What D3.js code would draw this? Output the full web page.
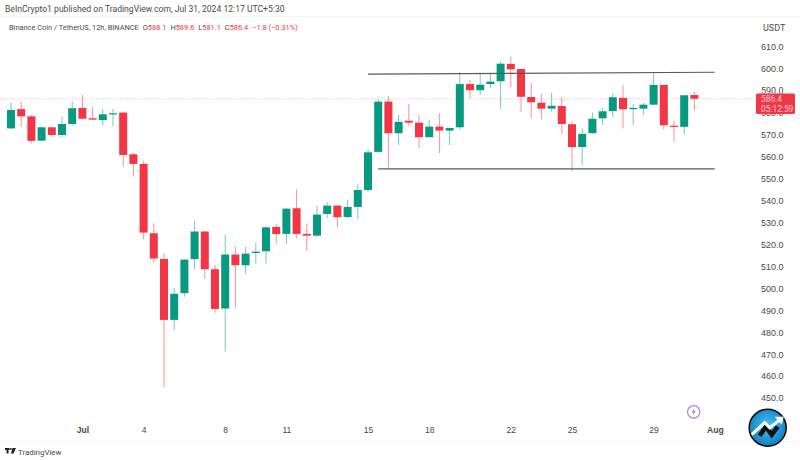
<!DOCTYPE html>
<html><head><meta charset="utf-8">
<script src="https://cdn.jsdelivr.net/npm/d3@7"></script>
<style>html,body{margin:0;padding:0;background:#fff}svg{display:block;font-family:Roboto,"Liberation Sans",sans-serif}</style>
</head><body><svg id="c" width="800" height="460"></svg>
<script>
const opens=[572.9,581.7,578.4,567.3,573.4,569.9,574.9,582.2,577.5,576.7,579.3,580.1,561.1,556.7,525.1,513.4,485.6,497.8,513.3,525.9,508.7,490.8,515.4,510.5,516.1,516.9,528.0,524.8,536.5,524.8,524.0,533.9,537.7,532.5,537.1,544.8,562.2,585.1,570.7,576.4,575.5,568.9,573.7,571.9,573.4,593.1,590.3,593.1,594.4,602.3,600.0,587.2,584.6,581.9,583.1,574.8,564.4,570.7,577.5,580.8,586.8,581.7,581.9,583.7,592.7,574.1,573.6,588.1];
const highs=[584.8,585.1,579.0,573.7,573.6,578.2,585.1,588.1,582.8,581.6,581.9,580.5,561.7,558.2,529.7,516.0,500.1,513.1,530.9,525.9,510.7,524.3,519.0,519.0,520.6,528.4,529.4,536.5,545.2,529.4,537.6,539.2,537.7,540.3,547.4,563.4,586.3,587.7,579.0,584.0,579.0,576.7,579.8,573.1,598.5,595.0,598.0,598.2,603.3,605.6,600.0,593.5,588.6,589.2,587.3,576.4,572.9,580.2,582.3,588.9,592.7,583.9,584.6,598.5,592.7,576.3,588.0,589.6];
const lows=[572.6,573.7,566.1,567.0,569.0,568.7,574.0,577.1,576.7,574.4,574.0,555.4,550.9,522.4,511.7,454.9,481.1,496.2,508.7,504.2,488.7,471.2,490.9,506.6,511.4,511.4,520.2,520.2,522.8,517.0,523.3,531.9,527.7,531.9,531.5,544.0,561.8,554.7,565.3,574.0,564.1,568.8,561.6,565.3,572.2,586.6,588.1,591.2,581.7,591.6,580.5,577.5,577.1,580.5,570.4,553.6,556.2,570.6,574.5,578.0,572.9,574.5,579.0,583.6,572.5,566.8,570.2,581.1];
const closes=[581.3,578.4,567.2,573.4,569.9,574.9,582.1,577.3,576.9,579.3,579.8,560.8,556.7,525.4,513.6,485.6,497.5,513.1,525.9,508.7,490.6,515.4,510.5,515.8,516.7,527.8,524.7,536.3,524.8,524.0,533.6,537.7,532.4,537.1,544.8,562.0,585.1,570.7,575.9,575.5,568.9,573.7,571.9,573.1,593.1,590.3,592.8,594.2,602.4,599.8,587.3,584.8,581.9,583.2,574.9,564.4,570.4,577.3,580.7,587.1,581.6,582.2,583.7,592.7,574.3,573.6,588.0,586.4];
const priceTicks=[450,460,470,480,490,500,510,520,530,540,550,560,570,580,590,600,610];
const timeLabels=["Jul","4","8","11","15","18","22","25","29","Aug"];
const timeIndex=[7,13,21,27,35,41,49,55,63,69];
const upperLineIdx=[35,69], upperLinePrice=[597.6,598.5];
const lowerLineIdx=[36,69], lowerLinePrice=[554.4,554.4];
const lastPrice=586.4;

const GREEN="#089981",RED="#f23645",TXT="#4a4a4a";
const svg=d3.select("#c");
const x=d3.scaleLinear().domain([0,67]).range([11,694.4]);
const y=d3.scaleLinear().domain([450,610]).range([398,47]);

const frame=svg.append("g").attr("stroke","#f5f5f5").attr("fill","none");
frame.append("line").attr("x1",0).attr("x2",800).attr("y1",16.5).attr("y2",16.5);
frame.append("line").attr("x1",0).attr("x2",800).attr("y1",441.5).attr("y2",441.5);

svg.append("line").attr("x1",0).attr("x2",756).attr("y1",y(lastPrice)).attr("y2",y(lastPrice))
  .attr("stroke","#f9c6cb").attr("stroke-width",1).attr("stroke-dasharray","1.5 1.5");

const data=opens.map((o,i)=>({i,o,h:highs[i],l:lows[i],c:closes[i]}));
const g=svg.append("g");
g.selectAll("line.w").data(data).join("line").attr("class","w")
  .attr("x1",d=>x(d.i)).attr("x2",d=>x(d.i)).attr("y1",d=>y(d.h)).attr("y2",d=>y(d.l))
  .attr("stroke",d=>d.c>=d.o?GREEN:RED).attr("stroke-opacity",0.55).attr("stroke-width",1);
g.selectAll("rect").data(data).join("rect")
  .attr("x",d=>x(d.i)-4).attr("width",8)
  .attr("y",d=>y(Math.max(d.o,d.c)))
  .attr("height",d=>Math.max(1.2,Math.abs(y(d.o)-y(d.c))))
  .attr("fill",d=>d.c>=d.o?GREEN:RED);

const tl=d3.line().x(d=>x(d[0])).y(d=>y(d[1]));
[[upperLineIdx,upperLinePrice],[lowerLineIdx,lowerLinePrice]].forEach(([a,b])=>{
  svg.append("path").attr("d",tl(d3.zip(a,b))).attr("fill","none").attr("stroke","#5a5a5a").attr("stroke-width",1.2);
});

const ay=svg.append("g").attr("transform","translate(761,0)")
  .call(d3.axisRight(y).tickValues(priceTicks.filter(v=>v!==580&&v!==590)).tickSize(0).tickPadding(0).tickFormat(d3.format(".1f")));
ay.select(".domain").remove();
ay.selectAll("text").attr("fill",TXT).attr("font-size",9);
// Ticks partly covered by the last-price tag: clipped so only the visible part shows
const clip=svg.append("defs").append("clipPath").attr("id","tagclip");
clip.append("rect").attr("x",756).attr("y",80).attr("width",44).attr("height",13.5);
clip.append("rect").attr("x",756).attr("y",114).attr("width",44).attr("height",6);
svg.append("g").attr("clip-path","url(#tagclip)").selectAll("text").data([580,590]).join("text")
  .attr("x",761).attr("y",d=>y(d)).attr("dy","0.32em").attr("font-size",9).attr("fill",TXT).text(d3.format(".1f"));

svg.append("text").attr("x",763).attr("y",31).attr("font-size",9).attr("fill",TXT).text("USDT");

svg.append("rect").attr("x",756).attr("y",93.5).attr("width",39).attr("height",20.5).attr("rx",1.5).attr("fill",RED);
svg.append("text").attr("x",761).attr("y",102).attr("font-size",8.4).attr("fill","#fbd0d4").text(d3.format(".1f")(lastPrice));
svg.append("text").attr("x",761).attr("y",112).attr("font-size",8.4).attr("fill","#fbd0d4").text("05:12:59");

const at=svg.append("g").attr("transform","translate(0,427)")
  .call(d3.axisBottom(x).tickValues(timeIndex).tickSize(0).tickPadding(0).tickFormat((d,i)=>timeLabels[i]));
at.select(".domain").remove();
at.selectAll("text").attr("fill",TXT).attr("font-size",8.6)
  .attr("font-weight",(d,i)=>timeLabels[i]==="Jul"||timeLabels[i]==="Aug"?700:400);

svg.append("text").attr("x",5).attr("y",12).attr("font-size",8.6).attr("fill",TXT).text("BeInCrypto1 published on TradingView.com, Jul 31, 2024 12:17 UTC+5:30");
const hdr=svg.append("text").attr("x",9).attr("y",30).attr("font-size",7.4).attr("fill",TXT);
hdr.append("tspan").text("Binance Coin / TetherUS, 12h, BINANCE");
[["O","588.1"],["H","589.6"],["L","581.1"],["C","586.4"]].forEach(([k,v])=>{
  hdr.append("tspan").attr("dx",4).text(k);
  hdr.append("tspan").attr("fill",RED).text(v);
});
hdr.append("tspan").attr("dx",4).attr("fill",RED).text("\u22121.8 (\u22120.31%)");

svg.append("text").attr("x",18).attr("y",455).attr("font-size",7.9).attr("fill",TXT).text("TradingView");
const lg=svg.append("g").attr("transform","translate(5,448)").attr("fill","#222");
lg.append("rect").attr("x",0).attr("y",0).attr("width",4.5).attr("height",2);
lg.append("rect").attr("x",1.5).attr("y",0).attr("width",2).attr("height",5.5);
lg.append("circle").attr("cx",5.8).attr("cy",1).attr("r",1);
lg.append("path").attr("d","M7.5 0h3.5l-2.5 5.5h-2.5z");

const b=svg.append("g").attr("transform","translate(693.7,411.8)");
b.append("circle").attr("r",6.2).attr("fill","#fff").attr("stroke","#b884cf").attr("stroke-width",1.3);
b.append("path").attr("d","M1 -3.5L-2 0.5H0L-1 3.5L2 -0.5H0Z").attr("fill","#a868c4");

const grad=svg.append("defs").append("radialGradient").attr("id","gb").attr("cx","50%").attr("cy","45%").attr("r","60%");
grad.append("stop").attr("offset","0%").attr("stop-color","#4cc4f2");
grad.append("stop").attr("offset","100%").attr("stop-color","#0b78bd");
const m=svg.append("g").attr("transform","translate(767.7,427.7)");
m.append("circle").attr("r",18.5).attr("fill","url(#gb)").attr("stroke","#0a0a0a").attr("stroke-width",1.5);
m.append("path").attr("d","M-8 8L-2 -1L4 7L10 -1").attr("fill","none").attr("stroke","#111").attr("stroke-width",4.5);
m.append("path").attr("d","M-16 7L-3 -5L2 0L11 -7").attr("fill","none").attr("stroke","#fff").attr("stroke-width",3);
m.append("path").attr("d","M7 -11L16 -11L14 -3Z").attr("fill","#fff");
</script></body></html>
